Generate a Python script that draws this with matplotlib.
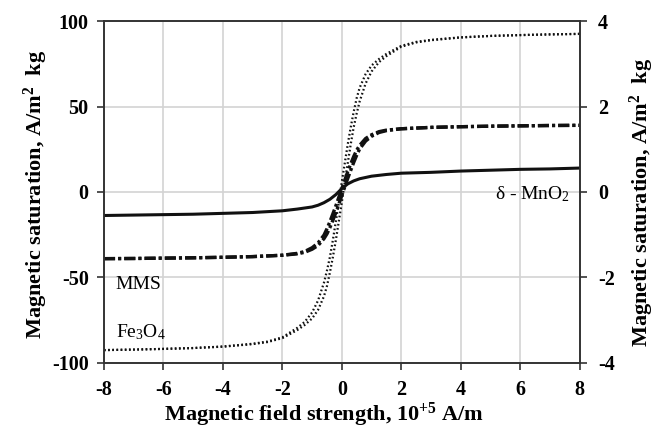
import matplotlib
matplotlib.use("Agg")
import matplotlib.pyplot as plt

plt.rcParams['font.family'] = ['Liberation Serif', 'DejaVu Serif']
plt.rcParams['mathtext.fontset'] = 'custom'
plt.rcParams['mathtext.rm'] = 'Liberation Serif'
plt.rcParams['mathtext.it'] = 'Liberation Serif:italic'
plt.rcParams['mathtext.bf'] = 'Liberation Serif:bold'
plt.rcParams['lines.scale_dashes'] = False

# Field strength, 10^5 A/m
field = [-8, -7, -6, -5, -4, -3, -2.5, -2, -1.5, -1.25, -1, -0.8, -0.6, -0.5, -0.4,
         -0.3, -0.2, -0.1, 0, 0.1, 0.2, 0.3, 0.4, 0.5, 0.6, 0.8, 1, 1.25, 1.5, 2,
         2.5, 3, 4, 5, 6, 7, 8]

# Fe3O4 (left axis), ascending and descending branches
fe_up = [-92.5, -92.2, -91.8, -91.3, -90.5, -89, -87.8, -85.5, -80.8, -77.8, -74,
         -69, -61, -55, -47, -38, -28, -17, -6, 6, 17, 28, 38, 46, 53, 63.5, 70.5,
         76, 79.5, 85, 87.5, 88.8, 90.4, 91.3, 91.8, 92.2, 92.5]
fe_dn = [-92.5, -92.2, -91.8, -91.3, -90.4, -88.8, -87.5, -85, -79.5, -76, -70.5,
         -63.5, -53, -46, -38, -28, -17, -6, 6, 17, 28, 38, 47, 55, 61, 69, 74,
         77.8, 80.8, 85.5, 87.8, 89, 90.5, 91.3, 91.8, 92.2, 92.5]

# MMS (left axis)
mms_up = [-39, -38.9, -38.7, -38.5, -38.2, -37.8, -37.4, -37, -36.2, -35.3, -33.5,
          -31.3, -27.3, -24.5, -20.8, -16.5, -12, -7, -2, 3, 8, 12.7, 17.3, 21.5,
          25.2, 29.8, 32.6, 34.8, 35.9, 37, 37.4, 37.8, 38.2, 38.5, 38.7, 38.9, 39]
mms_dn = [-39, -38.9, -38.7, -38.5, -38.2, -37.8, -37.4, -37, -35.9, -34.8, -32.6,
          -29.8, -25.2, -21.5, -17.3, -12.7, -8, -3, 2, 7, 12, 16.5, 20.8, 24.5,
          27.3, 31.3, 33.5, 35.3, 36.2, 37, 37.4, 37.8, 38.2, 38.5, 38.7, 38.9, 39]

# delta-MnO2 (right axis)
mno2_field = [-8, -7, -6, -5, -4, -3, -2, -1.5, -1, -0.8, -0.6, -0.4, -0.2, 0, 0.2,
              0.4, 0.6, 1, 1.5, 2, 3, 4, 5, 6, 7, 8]
mno2 = [-0.55, -0.54, -0.53, -0.52, -0.50, -0.48, -0.44, -0.40, -0.35, -0.31, -0.25,
        -0.17, -0.06, 0.08, 0.19, 0.26, 0.31, 0.37, 0.41, 0.44, 0.46, 0.49, 0.51,
        0.53, 0.54, 0.56]

xticks = [-8, -6, -4, -2, 0, 2, 4, 6, 8]
left_ticks = [-100, -50, 0, 50, 100]
right_ticks = [-4, -2, 0, 2, 4]

fig = plt.figure(figsize=(6.58, 4.30), dpi=100)
ax = fig.add_axes([0.158, 0.156, 0.723, 0.795])
ax2 = ax.twinx()

spine_c = '#333333'
grid_c = '#d3d3d3'

ax.plot(field, fe_up, color='#111111', lw=1.6, linestyle=(0, (1.2, 1.8)))
ax.plot(field, fe_dn, color='#111111', lw=1.6, linestyle=(0, (1.2, 1.8)))
ax.plot(field, mms_up, color='#111111', lw=2.4, linestyle=(0, (8, 2.2, 2.2, 2.2)))
ax.plot(field, mms_dn, color='#111111', lw=2.4, linestyle=(0, (8, 2.2, 2.2, 2.2)))
ax2.plot(mno2_field, mno2, color='#111111', lw=2.2)

ax.set_xlim(-8, 8)
ax.set_ylim(-100, 100)
ax2.set_ylim(-4, 4)
ax.set_xticks(xticks)
ax.set_yticks(left_ticks)
ax2.set_yticks(right_ticks)
ax.grid(True, color=grid_c, lw=1.2)
ax.set_axisbelow(True)

tick_font = dict(fontsize=14.5, fontweight='bold')
ax.set_xticklabels([str(t) for t in xticks], **tick_font)
ax.set_yticklabels([str(t) for t in left_ticks], **tick_font)
ax2.set_yticklabels([str(t) for t in right_ticks], **tick_font)

for a in (ax, ax2):
    for s in a.spines.values():
        s.set_color(spine_c)
        s.set_linewidth(1.2)
    a.tick_params(direction='out', length=5, width=1.2, color=spine_c)
ax.tick_params(axis='x', pad=7)
ax.tick_params(axis='y', pad=6)
ax2.tick_params(axis='y', pad=8)

label_font = dict(fontsize=16, fontweight='bold')
ax.set_xlabel('Magnetic field strength, 10$^{\\mathbf{+5}}$ A/m', **label_font)
ax.set_ylabel('Magnetic saturation, A/m$^{\\mathbf{2}}$  kg', **label_font)
ax2.set_ylabel('Magnetic saturation, A/m$^{\\mathbf{2}}$  kg', rotation=90, **label_font)
ax.xaxis.set_label_coords(0.462, -0.11)
ax.yaxis.set_label_coords(-0.114, 0.494)
ax2.yaxis.set_label_coords(1.101, 0.468)

ax.text(-7.6, -54, 'MMS', fontsize=14, ha='left', va='center')
ax.text(-7.6, -82, 'Fe$_3$O$_4$', fontsize=14, ha='left', va='center')
ax.text(7.66, -1, 'δ - MnO$_2$', fontsize=14, ha='right', va='center')

fig.savefig('out.png', dpi=100)
